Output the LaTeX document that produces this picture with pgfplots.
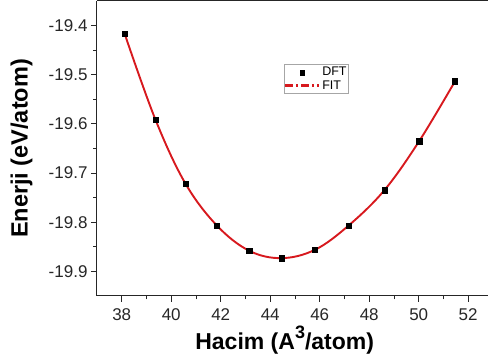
\documentclass[border=0pt]{standalone}
\usepackage{pgfplots}
\pgfplotsset{compat=1.18}
\usepackage{fontspec}
\setmainfont{Liberation Sans}
\definecolor{fitred}{RGB}{215,25,30}
\pgfplotstableread{
x y
38.12 -19.417
39.36 -19.591
40.57 -19.721
41.85 -19.807
43.15 -19.858
44.46 -19.873
45.81 -19.856
47.16 -19.807
48.61 -19.735
50.02 -19.635
51.47 -19.513
}\dft
\begin{document}
\begin{tikzpicture}
\begin{axis}[
  scale only axis,
  width=391pt, height=295pt,
  xmin=37, xmax=52.8,
  ymin=-19.95, ymax=-19.35,
  axis lines*=left,
  axis line style={-, line width=1pt, black!85},
  tick align=outside,
  tick style={line width=0.9pt, black!85},
  major tick length=6pt,
  minor tick length=3.5pt,
  minor tick num=1,
  xtick={38,40,...,52},
  ytick={-19.9,-19.8,-19.7,-19.6,-19.5,-19.4},
  /pgf/number format/assume math mode=true,
  yticklabel style={/pgf/number format/.cd, fixed, fixed zerofill, precision=1},
  xticklabel style={yshift=-3pt},
  ticklabel style={font=\fontsize{17}{20}\selectfont, black!85},
  xlabel={\textbf{Hacim (A\raisebox{0.45em}{\fontsize{18}{18}\selectfont 3}/atom)}},
  ylabel={\textbf{Enerji (eV/atom)}},
  xlabel style={font=\fontsize{23}{26}\selectfont, at={(axis description cs:0.48,-0.1797)}, anchor=base},
  ylabel style={font=\fontsize{23.5}{26}\selectfont, at={(axis description cs:-0.156,0.5)}, anchor=south, rotate=0},
  legend style={at={(0.478,0.786)}, anchor=north west, draw=gray!70, fill=white,
    font=\fontsize{12.5}{13}\selectfont, inner xsep=0pt, inner ysep=1pt, row sep=-1pt},
  legend cell align=left,
  clip=false,
]
\addplot[only marks, mark=square*, mark size=2.6pt, black,
  legend image code/.code={\draw[only marks, mark=square*, mark size=2.4pt, black] plot coordinates {(17pt,0pt)};}]
  table {\dft};
\addlegendentry{DFT}
\addplot[fitred, line width=1.9pt, smooth, tension=0.6,
  legend image code/.code={\draw[draw=fitred, line width=2.2pt, dash pattern=on 8pt off 3pt on 2pt off 3pt] (0pt,0pt) -- (34pt,0pt);}]
  table {\dft};
\addlegendentry{FIT}
\addplot[only marks, mark=square*, mark size=2.6pt, black, forget plot] table {\dft};
\draw[line width=1pt, black!85] (rel axis cs:0,1) -- (rel axis cs:1,1);
\coordinate (sw) at (rel axis cs:0,0);
\coordinate (ne) at (rel axis cs:1,1);
\end{axis}
\pgfresetboundingbox
\path ([shift={(-97pt,-66pt)}]sw) rectangle ([shift={(0pt,1pt)}]ne);
\end{tikzpicture}
\end{document}
